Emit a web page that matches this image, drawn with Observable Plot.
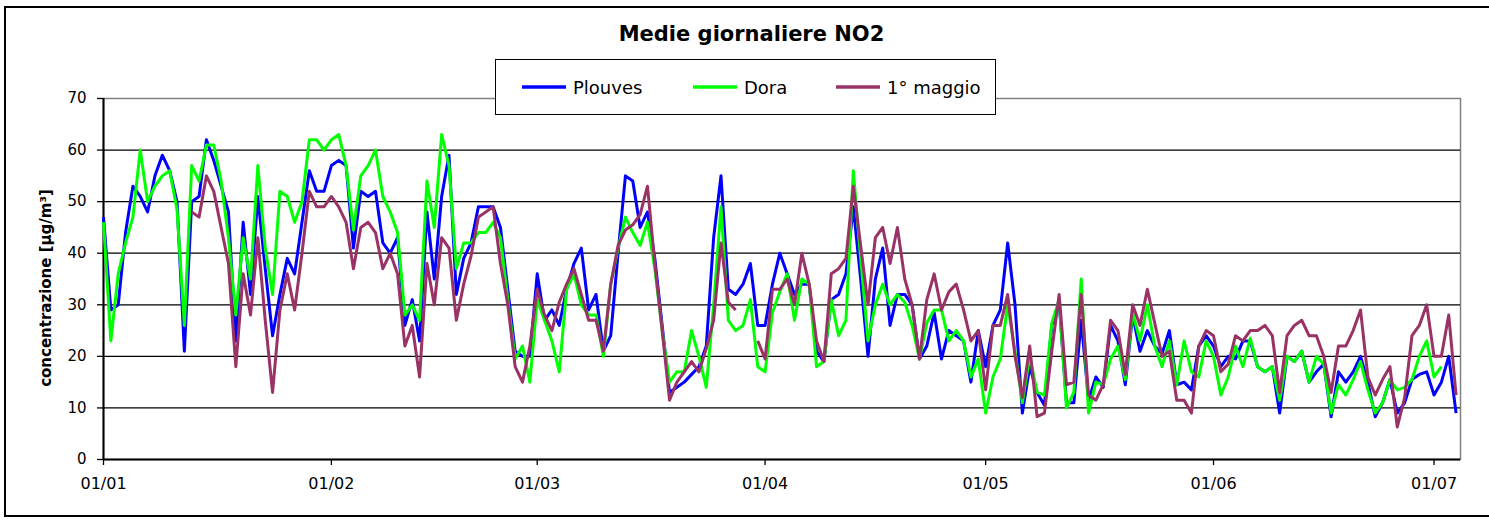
<!DOCTYPE html>
<html>
<head>
<meta charset="utf-8">
<script src="https://cdn.jsdelivr.net/npm/d3@7"></script>
<script src="https://cdn.jsdelivr.net/npm/@observablehq/plot@0.6"></script>
<style>
  html, body { margin: 0; padding: 0; background: #fff; }
  #wrap { position: relative; width: 1489px; height: 520px; overflow: hidden; background: #fff; font-family: "DejaVu Sans", sans-serif; }
  #wrap svg.plot { position: absolute; left: 0; top: 0; }
  #border { position: absolute; left: 4px; top: 6px; width: 1500px; height: 507px; border: 2px solid #000; pointer-events: none; }
  #title { position: absolute; left: 0; width: 1489px; top: 22px; text-align: center; font-weight: bold; font-size: 21px; padding-left: 14px; box-sizing: border-box; }
  #legend { position: absolute; left: 495px; top: 59px; width: 499px; height: 54px; border: 1.5px solid #000; background: #fff; }
  .item { position: absolute; top: 0; height: 54px; display: flex; align-items: center; font-size: 18px; }
  .item svg { margin-right: 7px; }
  #ylabel { position: absolute; left: 46px; top: 288px; transform: translate(-50%, -50%) rotate(-90deg); font-weight: bold; font-size: 15px; white-space: nowrap; }
</style>
</head>
<body>
<div id="wrap">
  <div id="title"></div>
  <div id="ylabel"></div>
  <div id="legend"></div>
  <div id="border"></div>
</div>
<script>
// ---- data (daily means, µg/m³), starting 01/01, one value per day ----
const chartTitle = "Medie giornaliere NO2";
const yLabel = "concentrazione [µg/m³]";
const seriesNames = ["Plouves", "Dora", "1° maggio"];
const seriesColors = ["#0000ff", "#00ff00", "#993366"];
const yTicks = [0, 10, 20, 30, 40, 50, 60, 70];
const gridValues = [10, 20, 30, 40, 50, 60];
const startDay = "2009-01-01";
const lastDomainDay = 184.6;

const plouves = [
  47,29,30,44,53,51,48,55,59,56,50,21,50,51,62,58,53,48,23,46,32,51,37,24,32,39,36,46,56,52,
  52,57,58,57,41,52,51,52,42,40,43,26,31,23,48,35,51,59,32,39,42,49,49,49,45,33,21,20,20,36,
  27,29,26,33,38,41,29,32,21,24,40,55,54,45,48,39,26,13,14,15,16.5,18,22,43,55,33,32,34,38,26,
  26,34,40,36,32,34,34,21,19,31,32,36,49,35,20,35,41,26,32,32,30,19.5,22,28.5,19.5,25,24,23,15,25,
  18,26,29,42,30,9,18,13,10.5,26,30.5,11,11,27,11.5,16,14,26,23,14.5,28,21,25,22,20.5,25,14.5,15,13.5,22,
  24,22,18,20,19.5,23,23,18,17,18,9,20,19,21,15,17,18.5,8.3,17,15,17,20,15,8.3,11,15.5,9,11,15.5,16.5,
  17,12.5,15,20,9
];
const dora = [
  46,23,36,42,47,60,50,53,55,56,48.5,26,57,54,61,61,54,43,28,43,35,57,41,32,52,51,46,50,62,62,
  60,62,63,57,44.5,55,57,60,51,48,44,28,30,27,54,45,63,57,37,42,42,44,44,46,43,31,19.5,22,15,31,
  27,23,17,33,36,30,28,28,20,34,41,47,44,41.5,46,37,25,15,17,17,25,20,14,30,49,27,25,26,31,18,
  17,28.5,32.5,36,27,35,34,18,19,31,24,27,56,39,23,30,34,30,32,30.5,26,19.5,26.5,29,29,23,25,23,16,19.5,
  9,16,19.5,30,21,11,20,13,12.5,26.5,31,10,13,35,9,15,14.5,19.5,22,15.5,28.5,23,30,22,18,23,14.5,23,17,16,
  23,20,12.5,16,22,18,23.5,18,17,18,11.5,20,19,21,15,20,18.5,9,14.5,12.5,15.5,19,13.5,9,11,15.5,13.5,14,15.5,20,
  23,16,18,null,null
];
const maggio = [
  null,null,null,null,null,null,null,null,null,null,null,null,48,47,55,52,45,38,18,36,28,43,27,13,29,36,29,40,52,49,
  49,51,49,46,37,45,46,44,37,40,36,22,26,16,38,30,43,41,27,34,39.5,47,48,49,38,30,18,15,22,33,
  28,25,30.5,34,37,32,27,27,21,34,41.5,44.5,45.5,47.5,53,38,25,11.5,15,17,19,17,21.5,27,42,30.5,29,null,null,23,
  19.5,33,33,35,30,40,34,23,19,36,37,39,53,41.5,30,43,45,38,45,35,30,19.5,31,36,29,32.5,34,29,23,25,
  13.5,26,26,32,20,12,22,8.3,9,21,32,14.5,15,32,12.5,11.5,14.5,27,25,16.5,30,26,33,26.5,20,21,11.5,11.5,9,22,
  25,24,17,18.5,24,23,25,25,26,24,13,24,26,27,24,24,20,13,22,22,25,29,16,12.5,15.5,18,6.3,12,24,26,
  30,20,20,28,12.5
];
const seriesValues = [plouves, dora, maggio];

// ---- build ----
const t0 = new Date(startDay + "T00:00:00Z");
const dayMs = 864e5;
const dates = plouves.map((_, i) => new Date(+t0 + i * dayMs));
const xEnd = new Date(+t0 + lastDomainDay * dayMs);
const monthTicks = d3.utcMonth.range(t0, xEnd);

const chart = Plot.plot({
  width: 1489,
  height: 520,
  marginLeft: 103,
  marginRight: 29,
  marginTop: 98,
  marginBottom: 61,
  style: { fontFamily: "DejaVu Sans, sans-serif", fontSize: "15px", color: "#000", background: "transparent", overflow: "visible" },
  x: { type: "utc", domain: [t0, xEnd] },
  y: { domain: [0, 70] },
  marks: [
    Plot.frame({ stroke: "#808080", strokeWidth: 1.5 }),
    Plot.ruleY(gridValues, { stroke: "#000", strokeWidth: 1.3 }),
    Plot.axisY({ ticks: yTicks, tickSize: 6, tickPadding: 11, fontSize: 15, label: null, stroke: "#000", strokeWidth: 1.3 }),
    Plot.axisX({ ticks: monthTicks, tickFormat: d3.utcFormat("%d/%m"), tickSize: 6, tickPadding: 12, fontSize: 16, label: null, stroke: "#000", strokeWidth: 1.3 }),
    Plot.ruleY([0], { stroke: "#000", strokeWidth: 2 }),
    Plot.ruleX([t0], { stroke: "#000", strokeWidth: 2 }),
    ...seriesValues.map((vals, k) =>
      Plot.line(vals, { x: dates, y: Plot.identity, stroke: seriesColors[k], strokeWidth: 3, strokeLinejoin: "round", strokeLinecap: "butt" })
    )
  ]
});
chart.classList.add("plot");
document.getElementById("wrap").prepend(chart);

document.getElementById("title").textContent = chartTitle;
document.getElementById("ylabel").textContent = yLabel;

const legend = document.getElementById("legend");
const itemLeft = [26, 197, 340];
seriesNames.forEach((name, k) => {
  const div = document.createElement("div");
  div.className = "item";
  div.style.left = itemLeft[k] + "px";
  div.innerHTML = `<svg width="44" height="6"><line x1="0" x2="44" y1="3" y2="3" stroke="${seriesColors[k]}" stroke-width="3.5"/></svg>`;
  const span = document.createElement("span");
  span.textContent = name;
  div.appendChild(span);
  legend.appendChild(div);
});
</script>
</body>
</html>
